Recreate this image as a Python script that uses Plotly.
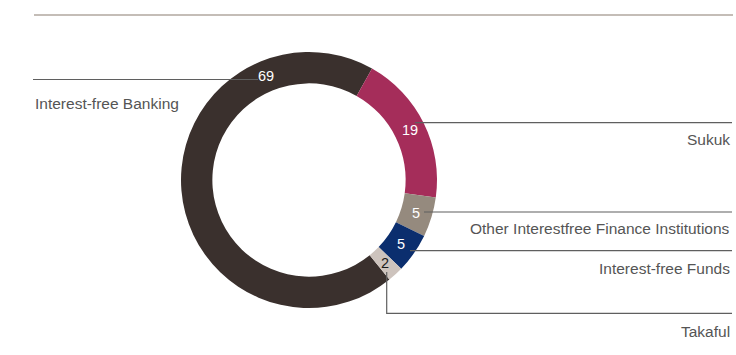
import math
import plotly.graph_objects as go

# Share of interest-free finance by segment
categories = ["Interest-free Banking", "Sukuk", "Other Interestfree Finance Institutions",
              "Interest-free Funds", "Takaful"]
values = [69, 19, 5, 5, 2]

colors = ["#3a302d", "#a52d5a", "#958a7e", "#0b2e6e", "#cdc3bd"]
value_text_colors = ["#ffffff", "#ffffff", "#ffffff", "#ffffff", "#1a1a1a"]
# where along each slice (0..1) its value label sits
label_frac = [0.79, 0.5, 0.5, 0.5, 0.5]

W, H = 736, 355
CX, CY, R = 309, 180, 128
HOLE = 0.755
ROTATION = 141.1  # first slice starts here, clockwise from 12 o'clock


def px(x):
    return x / W


def py(y):
    return 1 - y / H


fig = go.Figure(go.Pie(
    labels=categories,
    values=values,
    sort=False,
    direction="clockwise",
    rotation=ROTATION,
    hole=HOLE,
    marker=dict(colors=colors, line=dict(width=0)),
    textinfo="none",
    hoverinfo="label+value",
    showlegend=False,
    domain=dict(x=[px(CX - R), px(CX + R)], y=[py(CY + R), py(CY - R)]),
))

# value labels placed on the ring
total = sum(values)
r_mid = R * (1 + HOLE) / 2
start = ROTATION
annotations = []
for v, frac, tc in zip(values, label_frac, value_text_colors):
    span = 360 * v / total
    ang = math.radians(start + span * frac)
    x = CX + r_mid * math.sin(ang)
    y = CY - r_mid * math.cos(ang)
    annotations.append(dict(
        x=px(x), y=py(y), xref="paper", yref="paper", text=str(v), showarrow=False,
        xanchor="center", yanchor="middle",
        font=dict(family="Liberation Sans, Arial, sans-serif", size=14.5, color=tc),
    ))
    start += span

# category captions
label_font = dict(family="Liberation Sans, Arial, sans-serif", size=15.5, color="#555555")
captions = [
    (categories[0], 33, 103, "left"),
    (categories[1], 732, 139.5, "right"),
    (categories[2], 732, 228.5, "right"),
    (categories[3], 732, 268, "right"),
    (categories[4], 732, 331, "right"),
]
for text, x, y, anchor in captions:
    annotations.append(dict(
        x=px(x), y=py(y), xref="paper", yref="paper", text=text, showarrow=False,
        xanchor=anchor, yanchor="middle", font=label_font,
    ))

line_style = dict(color="#5f5f5f", width=1.2)
shapes = [
    # rule at the top
    dict(type="line", xref="paper", yref="paper", x0=px(34), x1=px(733), y0=py(15), y1=py(15),
         line=dict(color="#c4bdb7", width=2)),
    # leader lines
    dict(type="line", xref="paper", yref="paper", x0=px(33), x1=px(258), y0=py(79.5), y1=py(79.5),
         line=line_style),
    dict(type="line", xref="paper", yref="paper", x0=px(415), x1=px(732), y0=py(122.7), y1=py(122.7),
         line=line_style),
    dict(type="line", xref="paper", yref="paper", x0=px(424), x1=px(732), y0=py(212), y1=py(212),
         line=line_style),
    dict(type="line", xref="paper", yref="paper", x0=px(410), x1=px(732), y0=py(250.7), y1=py(250.7),
         line=line_style),
    dict(type="path", xref="paper", yref="paper",
         path=f"M {px(386.7)} {py(272)} L {px(386.7)} {py(313.3)} L {px(732)} {py(313.3)}",
         line=line_style),
]

fig.update_layout(
    width=W, height=H,
    margin=dict(l=0, r=0, t=0, b=0),
    paper_bgcolor="#ffffff",
    plot_bgcolor="#ffffff",
    annotations=annotations,
    shapes=shapes,
)

fig.write_html("out.html")
